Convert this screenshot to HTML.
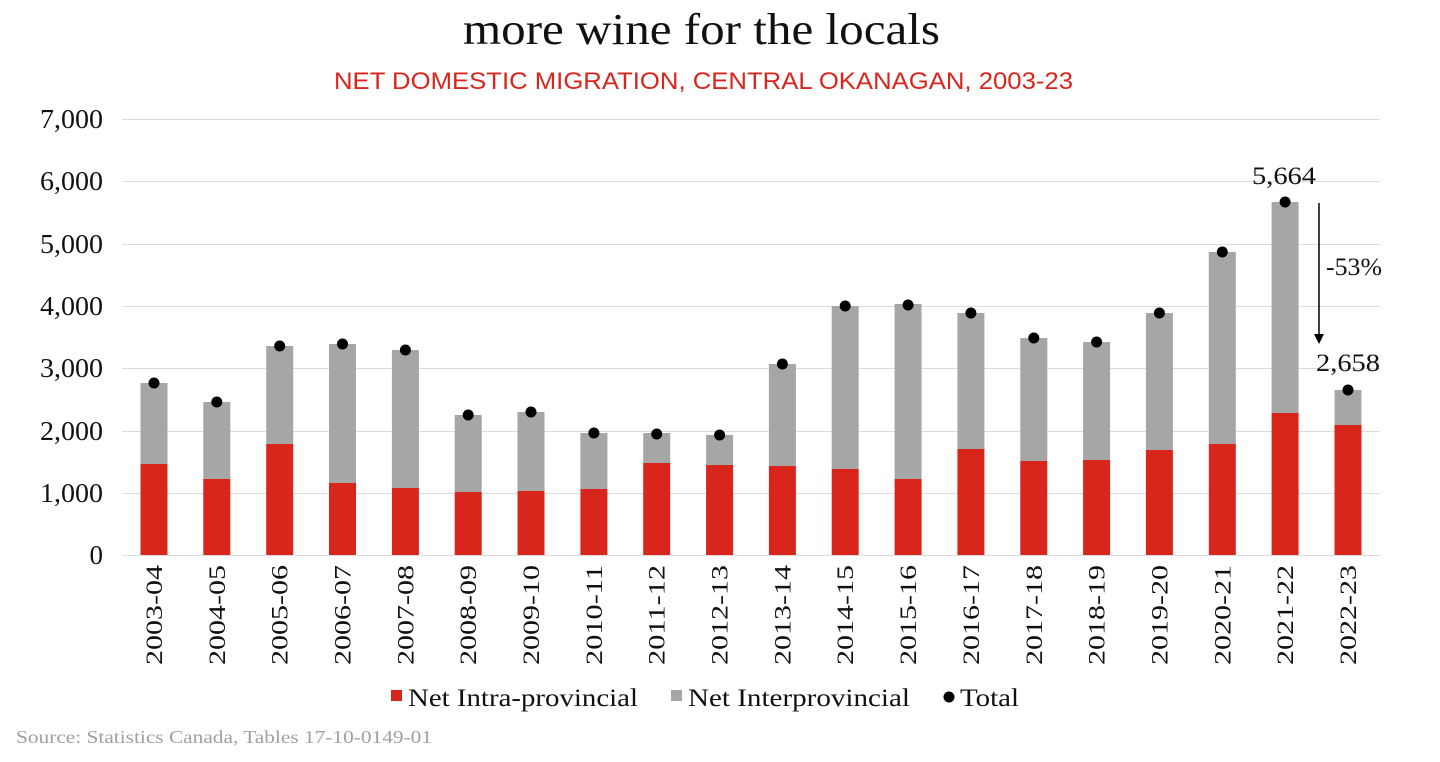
<!DOCTYPE html>
<html><head><meta charset="utf-8"><style>
html,body{margin:0;padding:0;background:#fff;}
svg{display:block;}
</style></head><body>
<svg width="1440" height="762" viewBox="0 0 1440 762" xmlns="http://www.w3.org/2000/svg">
<text x="463" y="44" textLength="477" lengthAdjust="spacingAndGlyphs" font-family="Liberation Serif, serif" font-size="44" fill="#111">more wine for the locals</text>
<text x="334" y="89" textLength="739" lengthAdjust="spacingAndGlyphs" font-family="Liberation Sans, sans-serif" font-size="24" fill="#d9261c">NET DOMESTIC MIGRATION, CENTRAL OKANAGAN, 2003-23</text>
<g stroke="#dcdcdc" stroke-width="1">
<line x1="122" x2="1380" y1="119.5" y2="119.5"/><line x1="122" x2="1380" y1="181.5" y2="181.5"/>
<line x1="122" x2="1380" y1="244.5" y2="244.5"/><line x1="122" x2="1380" y1="306.5" y2="306.5"/>
<line x1="122" x2="1380" y1="368.5" y2="368.5"/><line x1="122" x2="1380" y1="431.5" y2="431.5"/>
<line x1="122" x2="1380" y1="493.5" y2="493.5"/><line x1="122" x2="1380" y1="555.5" y2="555.5"/>
</g>
<g font-family="Liberation Serif, serif" font-size="27" fill="#111" text-anchor="end">
<text x="103" y="128" textLength="63" lengthAdjust="spacingAndGlyphs">7,000</text>
<text x="103" y="190" textLength="63" lengthAdjust="spacingAndGlyphs">6,000</text>
<text x="103" y="253" textLength="63" lengthAdjust="spacingAndGlyphs">5,000</text>
<text x="103" y="315" textLength="63" lengthAdjust="spacingAndGlyphs">4,000</text>
<text x="103" y="377" textLength="63" lengthAdjust="spacingAndGlyphs">3,000</text>
<text x="103" y="440" textLength="63" lengthAdjust="spacingAndGlyphs">2,000</text>
<text x="103" y="502" textLength="63" lengthAdjust="spacingAndGlyphs">1,000</text>
<text x="103" y="564">0</text>
</g>
<g fill="#a6a6a6">
<rect x="140.5" y="383" width="27" height="81"/>
<rect x="203.3" y="402" width="27" height="77"/>
<rect x="266.2" y="346" width="27" height="98"/>
<rect x="329" y="344" width="27" height="139"/>
<rect x="391.9" y="350" width="27" height="138"/>
<rect x="454.7" y="415" width="27" height="77"/>
<rect x="517.5" y="412" width="27" height="79"/>
<rect x="580.4" y="433" width="27" height="56"/>
<rect x="643.2" y="433" width="27" height="30"/>
<rect x="706.1" y="435" width="27" height="30"/>
<rect x="768.9" y="364" width="27" height="102"/>
<rect x="831.7" y="306" width="27" height="163"/>
<rect x="894.6" y="304" width="27" height="175"/>
<rect x="957.4" y="313" width="27" height="136"/>
<rect x="1020.3" y="338" width="27" height="123"/>
<rect x="1083.1" y="342" width="27" height="118"/>
<rect x="1145.9" y="313" width="27" height="137"/>
<rect x="1208.8" y="252" width="27" height="192"/>
<rect x="1271.6" y="202" width="27" height="211"/>
<rect x="1334.5" y="390" width="27" height="35"/>
</g>
<g fill="#d9261c">
<rect x="140.5" y="464" width="27" height="91"/>
<rect x="203.3" y="479" width="27" height="76"/>
<rect x="266.2" y="444" width="27" height="111"/>
<rect x="329" y="483" width="27" height="72"/>
<rect x="391.9" y="488" width="27" height="67"/>
<rect x="454.7" y="492" width="27" height="63"/>
<rect x="517.5" y="491" width="27" height="64"/>
<rect x="580.4" y="489" width="27" height="66"/>
<rect x="643.2" y="463" width="27" height="92"/>
<rect x="706.1" y="465" width="27" height="90"/>
<rect x="768.9" y="466" width="27" height="89"/>
<rect x="831.7" y="469" width="27" height="86"/>
<rect x="894.6" y="479" width="27" height="76"/>
<rect x="957.4" y="449" width="27" height="106"/>
<rect x="1020.3" y="461" width="27" height="94"/>
<rect x="1083.1" y="460" width="27" height="95"/>
<rect x="1145.9" y="450" width="27" height="105"/>
<rect x="1208.8" y="444" width="27" height="111"/>
<rect x="1271.6" y="413" width="27" height="142"/>
<rect x="1334.5" y="425" width="27" height="130"/>
</g>
<g fill="#000">
<circle cx="154" cy="383" r="5.5"/><circle cx="216.8" cy="402" r="5.5"/><circle cx="279.7" cy="346" r="5.5"/>
<circle cx="342.5" cy="344" r="5.5"/><circle cx="405.4" cy="350" r="5.5"/><circle cx="468.2" cy="415" r="5.5"/>
<circle cx="531" cy="412" r="5.5"/><circle cx="593.9" cy="433" r="5.5"/><circle cx="656.7" cy="434" r="5.5"/>
<circle cx="719.6" cy="435" r="5.5"/><circle cx="782.4" cy="364" r="5.5"/><circle cx="845.2" cy="306" r="5.5"/>
<circle cx="908.1" cy="305" r="5.5"/><circle cx="970.9" cy="313" r="5.5"/><circle cx="1033.8" cy="338" r="5.5"/>
<circle cx="1096.6" cy="342" r="5.5"/><circle cx="1159.4" cy="313" r="5.5"/><circle cx="1222.3" cy="252" r="5.5"/>
<circle cx="1285.1" cy="202" r="5.5"/><circle cx="1348" cy="390" r="5.5"/>
</g>
<g font-family="Liberation Serif, serif" font-size="23" fill="#111" text-anchor="end">
<text transform="translate(162,565) rotate(-90)" textLength="100" lengthAdjust="spacingAndGlyphs">2003-04</text>
<text transform="translate(224.8,565) rotate(-90)" textLength="100" lengthAdjust="spacingAndGlyphs">2004-05</text>
<text transform="translate(287.7,565) rotate(-90)" textLength="100" lengthAdjust="spacingAndGlyphs">2005-06</text>
<text transform="translate(350.5,565) rotate(-90)" textLength="100" lengthAdjust="spacingAndGlyphs">2006-07</text>
<text transform="translate(413.4,565) rotate(-90)" textLength="100" lengthAdjust="spacingAndGlyphs">2007-08</text>
<text transform="translate(476.2,565) rotate(-90)" textLength="100" lengthAdjust="spacingAndGlyphs">2008-09</text>
<text transform="translate(539,565) rotate(-90)" textLength="100" lengthAdjust="spacingAndGlyphs">2009-10</text>
<text transform="translate(601.9,565) rotate(-90)" textLength="100" lengthAdjust="spacingAndGlyphs">2010-11</text>
<text transform="translate(664.7,565) rotate(-90)" textLength="100" lengthAdjust="spacingAndGlyphs">2011-12</text>
<text transform="translate(727.6,565) rotate(-90)" textLength="100" lengthAdjust="spacingAndGlyphs">2012-13</text>
<text transform="translate(790.4,565) rotate(-90)" textLength="100" lengthAdjust="spacingAndGlyphs">2013-14</text>
<text transform="translate(853.2,565) rotate(-90)" textLength="100" lengthAdjust="spacingAndGlyphs">2014-15</text>
<text transform="translate(916.1,565) rotate(-90)" textLength="100" lengthAdjust="spacingAndGlyphs">2015-16</text>
<text transform="translate(978.9,565) rotate(-90)" textLength="100" lengthAdjust="spacingAndGlyphs">2016-17</text>
<text transform="translate(1041.8,565) rotate(-90)" textLength="100" lengthAdjust="spacingAndGlyphs">2017-18</text>
<text transform="translate(1104.6,565) rotate(-90)" textLength="100" lengthAdjust="spacingAndGlyphs">2018-19</text>
<text transform="translate(1167.4,565) rotate(-90)" textLength="100" lengthAdjust="spacingAndGlyphs">2019-20</text>
<text transform="translate(1230.3,565) rotate(-90)" textLength="100" lengthAdjust="spacingAndGlyphs">2020-21</text>
<text transform="translate(1293.1,565) rotate(-90)" textLength="100" lengthAdjust="spacingAndGlyphs">2021-22</text>
<text transform="translate(1356,565) rotate(-90)" textLength="100" lengthAdjust="spacingAndGlyphs">2022-23</text>
</g>
<g font-family="Liberation Serif, serif" font-size="25" fill="#111">
<text x="1252" y="184" textLength="64" lengthAdjust="spacingAndGlyphs">5,664</text>
<text x="1316" y="371" textLength="64" lengthAdjust="spacingAndGlyphs">2,658</text>
<text x="1326" y="275" textLength="56" lengthAdjust="spacingAndGlyphs">-53%</text>
</g>
<line x1="1319" y1="203" x2="1319" y2="334" stroke="#000" stroke-width="1.5"/>
<polygon points="1314,334 1324,334 1319,344" fill="#000"/>
<g font-family="Liberation Serif, serif" font-size="25" fill="#111">
<rect x="391" y="690" width="11" height="11" fill="#d9261c"/><text x="408" y="706" textLength="230" lengthAdjust="spacingAndGlyphs">Net Intra-provincial</text>
<rect x="671" y="690" width="11" height="11" fill="#a6a6a6"/><text x="688" y="706" textLength="222" lengthAdjust="spacingAndGlyphs">Net Interprovincial</text>
<circle cx="949" cy="697" r="5.5" fill="#000"/><text x="960" y="706" textLength="59" lengthAdjust="spacingAndGlyphs">Total</text>
</g>
<text x="16" y="743" textLength="416" lengthAdjust="spacingAndGlyphs" font-family="Liberation Serif, serif" font-size="18" fill="#a0a0a0">Source: Statistics Canada, Tables 17-10-0149-01</text>
</svg>
</body></html>
